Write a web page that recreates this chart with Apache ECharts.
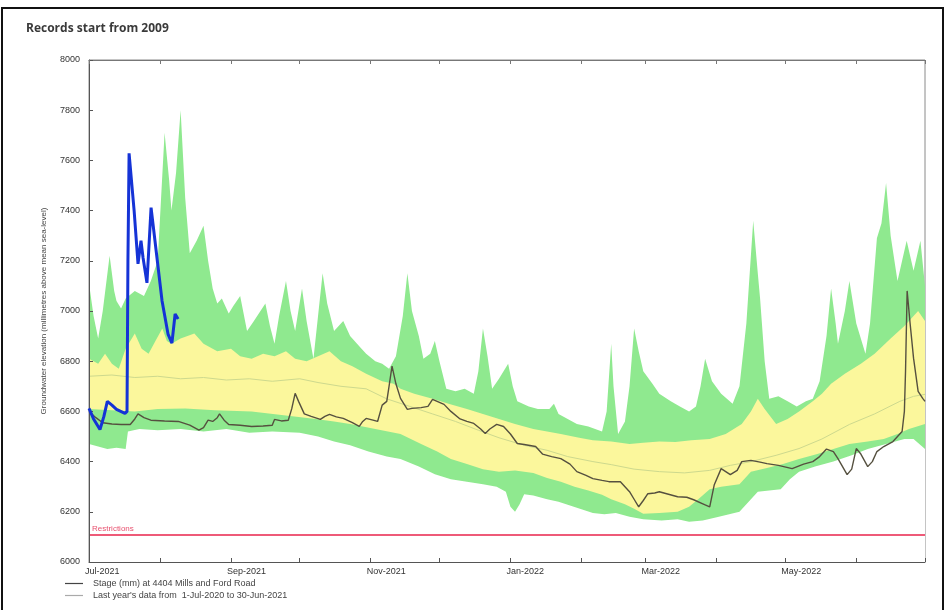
<!DOCTYPE html>
<html>
<head>
<meta charset="utf-8">
<script src="https://cdn.jsdelivr.net/npm/echarts@6/dist/echarts.min.js"></script>
<style>
html,body{margin:0;padding:0;background:#fff;}
#chart{width:948px;height:610px;}
</style>
</head>
<body>
<div id="chart"></div>
<script>
// x values are days since 1-Jul-2021
const monthTickDays = [0,31,62,92,123,153,184,215,243,274,304,335,365];
const monthLabelDays = [0,62,123,184,243,304];
const monthLabels = ['Jul-2021','Sep-2021','Nov-2021','Jan-2022','Mar-2022','May-2022'];
const restrictionLevel = 6110;

const greenMax = [
[0,7110],[2,6980],[4,6890],[6,7000],[9,7220],[11,7080],[12,7040],[14,7010],[16,7050],[20,7080],[24,7060],[27,7120],[30,7200],[33,7710],[35,7520],[36,7400],[38,7550],[40,7800],[42,7450],[44,7230],[47,7280],[50,7340],[52,7200],[54,7090],[56,7030],[58,7050],[61,6990],[63,7020],[66,7060],[69,6920],[72,6960],[77,7030],[79,6940],[81,6870],[83,6980],[86,7120],[88,7000],[90,6920],[93,7090],[95,6960],[98,6810],[100,6980],[102,7150],[104,7030],[107,6920],[109,6940],[111,6960],[114,6900],[118,6860],[121,6830],[125,6800],[128,6790],[131,6770],[134,6820],[137,6980],[139,7150],[141,7000],[144,6900],[146,6810],[149,6830],[151,6880],[153,6800],[156,6690],[160,6680],[164,6690],[168,6670],[170,6760],[172,6930],[174,6820],[176,6690],[179,6730],[183,6790],[185,6700],[187,6640],[192,6620],[196,6610],[201,6610],[203,6630],[205,6590],[209,6570],[213,6550],[218,6540],[224,6520],[226,6600],[228,6870],[229,6700],[231,6510],[234,6560],[236,6700],[238,6930],[240,6840],[242,6760],[246,6710],[249,6670],[254,6640],[258,6620],[262,6600],[265,6620],[267,6700],[269,6810],[272,6720],[276,6670],[281,6630],[284,6700],[287,6950],[290,7360],[292,7150],[293,7050],[295,6800],[297,6650],[301,6660],[305,6640],[309,6620],[313,6640],[316,6650],[319,6720],[322,6900],[324,7090],[326,6950],[327,6870],[330,7000],[332,7120],[335,6950],[339,6830],[341,6950],[344,7290],[346,7350],[348,7510],[350,7300],[353,7120],[355,7200],[357,7280],[360,7160],[363,7280],[365,7100]
];
const yellowHigh = [
[0,6810],[4,6790],[7,6830],[10,6790],[13,6770],[16,6850],[20,6910],[23,6850],[26,6830],[29,6880],[32,6930],[34,6880],[36,6870],[40,6890],[46,6910],[50,6870],[56,6840],[62,6850],[66,6820],[71,6810],[76,6830],[81,6820],[86,6840],[90,6810],[95,6800],[100,6820],[105,6840],[110,6800],[115,6780],[121,6750],[128,6720],[133,6710],[136,6690],[142,6670],[150,6650],[157,6630],[165,6610],[172,6590],[179,6570],[186,6550],[194,6530],[200,6520],[206,6510],[214,6495],[220,6485],[228,6480],[236,6470],[242,6475],[249,6480],[256,6478],[263,6485],[271,6490],[278,6510],[285,6550],[289,6600],[292,6650],[295,6610],[300,6550],[305,6570],[310,6600],[316,6640],[320,6670],[324,6710],[330,6750],[337,6790],[343,6830],[350,6890],[356,6940],[360,6980],[362,7000],[365,6960]
];
const yellowLow = [
[0,6610],[10,6605],[20,6600],[30,6610],[42,6612],[55,6605],[71,6600],[85,6585],[99,6570],[107,6560],[114,6550],[125,6530],[136,6510],[145,6470],[152,6440],[158,6410],[165,6390],[172,6370],[179,6360],[186,6365],[194,6355],[200,6335],[206,6320],[212,6300],[218,6285],[224,6268],[228,6250],[234,6230],[238,6212],[242,6192],[249,6195],[257,6200],[262,6220],[266,6250],[271,6290],[276,6300],[284,6310],[289,6360],[296,6375],[303,6390],[310,6410],[318,6430],[325,6450],[332,6470],[340,6480],[347,6490],[353,6510],[358,6530],[365,6550]
];
const greenMin = [
[0,6470],[4,6460],[8,6450],[12,6455],[16,6450],[17,6520],[22,6530],[30,6525],[40,6530],[50,6520],[60,6530],[70,6515],[80,6520],[92,6515],[100,6500],[107,6480],[114,6465],[122,6440],[130,6420],[136,6410],[144,6380],[151,6350],[158,6330],[165,6320],[172,6310],[178,6300],[182,6280],[184,6220],[186,6200],[188,6230],[190,6270],[194,6265],[200,6250],[205,6240],[209,6228],[215,6210],[220,6195],[225,6190],[230,6195],[236,6180],[242,6170],[250,6165],[257,6170],[262,6160],[268,6165],[275,6180],[284,6200],[288,6240],[292,6280],[297,6285],[302,6290],[306,6330],[310,6360],[317,6380],[325,6400],[333,6425],[340,6450],[348,6470],[356,6490],[360,6490],[365,6450]
];
const lastYear = [
[0,6740],[10,6745],[20,6735],[30,6740],[40,6730],[50,6735],[60,6725],[70,6730],[80,6720],[92,6730],[100,6715],[110,6700],[121,6690],[130,6650],[140,6620],[150,6590],[160,6560],[170,6525],[179,6495],[190,6465],[200,6445],[209,6420],[220,6400],[228,6388],[238,6370],[249,6360],[260,6355],[271,6365],[280,6385],[289,6400],[300,6425],[310,6452],[320,6490],[332,6548],[343,6590],[354,6640],[360,6660],[365,6668]
];
const stage = [
[0,6600],[3,6575],[6,6555],[10,6550],[14,6548],[18,6548],[20,6570],[21.4,6590],[24,6575],[27,6565],[33,6562],[39,6560],[44,6545],[48,6525],[50,6535],[52,6565],[54,6560],[56,6575],[57,6590],[59,6565],[61,6548],[66,6545],[71,6540],[76,6542],[80,6545],[81,6568],[84,6562],[87,6565],[88.5,6610],[90,6672],[91.5,6640],[94,6590],[97,6580],[101,6568],[103,6580],[105,6588],[108,6578],[111,6572],[115,6555],[118,6540],[119.5,6560],[121,6572],[124,6565],[126,6560],[128,6625],[130,6640],[131,6700],[132.3,6780],[134,6710],[136,6652],[139,6608],[141,6612],[145,6615],[148,6620],[150,6648],[152,6640],[155,6628],[158,6600],[162,6570],[165,6560],[168,6552],[171,6530],[173,6512],[175,6530],[178,6548],[181,6540],[184,6510],[187,6472],[190,6468],[195,6460],[198,6430],[202,6420],[206,6412],[210,6390],[213,6360],[217,6345],[220,6332],[224,6325],[227,6320],[232,6320],[234,6300],[236,6280],[238,6250],[240,6220],[242,6245],[244,6272],[247,6275],[249,6280],[253,6270],[257,6260],[261,6258],[264,6248],[268,6232],[271,6220],[273,6308],[276,6372],[278,6360],[280,6348],[283,6365],[285,6400],[289,6405],[293,6398],[296,6392],[301,6385],[307,6372],[312,6390],[316,6400],[319,6420],[322,6450],[325,6440],[327,6412],[329,6380],[331,6348],[333,6370],[335,6452],[337,6430],[340,6380],[342,6400],[344,6440],[347,6460],[351,6480],[355,6520],[356,6600],[356.5,6760],[357.2,7080],[358.5,6950],[360,6812],[362,6680],[364,6652],[365,6640]
];
const current = [
[0,6612],[2,6570],[4.8,6528],[6.5,6580],[8,6640],[10,6625],[12,6608],[15.7,6592],[16.6,6600],[17,7200],[17.5,7628],[19.7,7400],[21.4,7188],[22.7,7280],[23.6,7212],[25.3,7112],[27.1,7412],[28.8,7280],[31.9,7040],[34.5,6908],[36.2,6872],[37.6,6988],[38.9,6968]
];

const STAGE_NAME = 'Stage (mm) at 4404 Mills and Ford Road';
const LAST_NAME = "Last year's data from  1-Jul-2020 to 30-Jun-2021";
const labelMap = {};
monthLabelDays.forEach((d,i)=>{labelMap[d]=monthLabels[i];});

const GREEN = '#8fe98f', YELLOW = '#fbf79c';
function band(name, data, color){
  return {name, type:'line', data, showSymbol:false, silent:true,
    lineStyle:{width:0}, areaStyle:{color, opacity:1, origin:'start'}, z:1};
}

const chart = echarts.init(document.getElementById('chart'), null, {renderer:'canvas'});
chart.setOption({
  animation:false,
  backgroundColor:'#fff',
  textStyle:{fontFamily:'Liberation Sans, Arial, sans-serif'},
  title:{text:'Records start from 2009', left:21, top:18,
    textStyle:{fontSize:12, fontWeight:'bold', color:'#3a3a3a', fontFamily:'Open Sans'}},
  grid:{left:89, right:23, top:60, bottom:48, show:true, borderColor:'#8a8a8a', borderWidth:1},
  legend:{orient:'vertical', left:60, top:574, icon:'rect', itemWidth:18, itemHeight:1.2, itemGap:3,
    textStyle:{fontSize:9, color:'#444', padding:[0,0,0,5]},
    data:[{name:STAGE_NAME, itemStyle:{color:'#444'}},{name:LAST_NAME, itemStyle:{color:'#aaa'}}]},
  xAxis:[{
    type:'value', min:0, max:365, z:5,
    axisLine:{lineStyle:{color:'#555'}},
    axisTick:{inside:true, length:4, customValues:monthTickDays, lineStyle:{color:'#555'}},
    axisLabel:{customValues:monthLabelDays, formatter:v=>labelMap[v]||'', align:'left', margin:5,
      fontSize:9, color:'#333', padding:[0,0,0,-4]},
    splitLine:{show:false}
  },{
    type:'value', min:0, max:365, position:'top', z:5,
    axisLine:{lineStyle:{color:'#777'}},
    axisTick:{inside:true, length:4, customValues:monthTickDays, lineStyle:{color:'#777'}},
    axisLabel:{show:false}, splitLine:{show:false}
  }],
  yAxis:{
    type:'value', min:6000, max:8000, interval:200, z:5,
    name:'Groundwater elevation (millimetres above mean sea-level)',
    nameLocation:'middle', nameGap:41,
    nameTextStyle:{fontSize:8, color:'#444'},
    axisLine:{show:true, lineStyle:{color:'#555'}},
    axisTick:{show:true, inside:true, length:4, lineStyle:{color:'#555'}},
    axisLabel:{fontSize:9, color:'#333', margin:9, formatter:v=>String(v)},
    splitLine:{show:false}
  },
  graphic:[{type:'rect', shape:{x:2, y:8, width:941, height:610}, style:{fill:'none', stroke:'#111', lineWidth:2}, z:100}],
  series:[
    band('maxBand', greenMax, GREEN),
    band('upperBand', yellowHigh, YELLOW),
    band('lowerBand', yellowLow, GREEN),
    band('minBand', greenMin, '#ffffff'),
    {name:LAST_NAME, type:'line', data:lastYear, showSymbol:false, z:3,
      lineStyle:{color:'#cdd98e', width:1}},
    {name:STAGE_NAME, type:'line', data:stage, showSymbol:false, z:4,
      lineStyle:{color:'#55503f', width:1.4},
      markLine:{silent:true, symbol:'none',
        lineStyle:{color:'#ee5a78', width:2, type:'solid'},
        label:{show:true, position:'insideStartTop', formatter:'Restrictions', color:'#e8506e', fontSize:8, distance:[3,2]},
        data:[{yAxis:restrictionLevel}]}},
    {name:'current', type:'line', data:current, showSymbol:false, z:6,
      lineStyle:{color:'#1533d6', width:3}}
  ]
});
</script>
</body>
</html>
